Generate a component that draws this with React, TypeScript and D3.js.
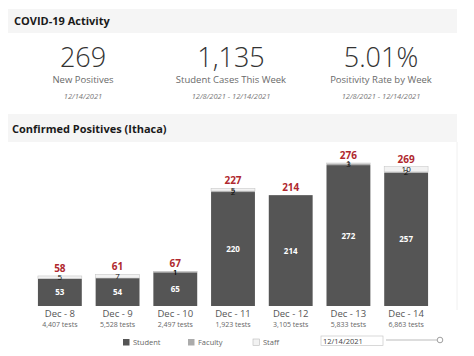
import React from "react";
import * as d3 from "d3";

const days = ["Dec - 8", "Dec - 9", "Dec - 10", "Dec - 11", "Dec - 12", "Dec - 13", "Dec - 14"];
const tests = ["4,407 tests", "5,528 tests", "2,497 tests", "1,923 tests", "3,105 tests", "5,833 tests", "6,863 tests"];
const student = [53, 54, 65, 220, 214, 272, 257];
const faculty = [0, 0, 1, 2, 0, 3, 2];
const staff = [5, 7, 1, 5, 0, 1, 10];
const seriesNames = ["Student", "Faculty", "Staff"];
const kpiValues = ["269", "1,135", "5.01%"];
const kpiLabels = ["New Positives", "Student Cases This Week", "Positivity Rate by Week"];
const kpiDates = ["12/14/2021", "12/8/2021 - 12/14/2021", "12/8/2021 - 12/14/2021"];

const W = 474, H = 356;
const colors = ["#555555", "#ababab", "#f2f2f2"];
const font = "'Open Sans', sans-serif";

export default function App() {
  const x = d3.scaleBand<string>().domain(days).range([31, 435]).paddingInner(0.24).paddingOuter(0.12);
  const y = d3.scaleLinear().domain([0, 300]).range([306, 150.6]);
  const rows = days.map((d, i) => ({ day: d, Student: student[i], Faculty: faculty[i], Staff: staff[i] }));
  const stack = d3.stack<any>().keys(seriesNames)(rows);
  const kpiX = [83, 231, 381];
  const legendX = [123, 188, 253];

  return (
    <div style={{ position: "absolute", left: 0, top: 0, width: W, height: H, background: "#fff" }}>
      <svg width={W} height={H} style={{ display: "block", fontFamily: font }}>
        <rect x={0} y={0} width={W} height={H} fill="#fff" />
        {/* header 1 */}
        <rect x={8} y={9} width={449} height={24} fill="#f5f5f5" />
        <text x={14} y={25} fontSize={11} fontWeight={700} fill="#1a1a1a">COVID-19 Activity</text>
        {kpiValues.map((v, i) => (
          <g key={v}>
            <text x={kpiX[i]} y={67} textAnchor="middle" fontSize={27} fontWeight={300} fill="#333">{v}</text>
            <text x={kpiX[i]} y={83} textAnchor="middle" fontSize={9.5} fill="#6a6a6a">{kpiLabels[i]}</text>
            <text x={kpiX[i]} y={99} textAnchor="middle" fontSize={7.5} fontStyle="italic" fill="#777">{kpiDates[i]}</text>
          </g>
        ))}
        {/* header 2 */}
        <rect x={8} y={114} width={449} height={28} fill="#f5f5f5" />
        <text x={12} y={133} fontSize={11} fontWeight={700} fill="#1a1a1a">Confirmed Positives (Ithaca)</text>
        <line x1={457} y1={142} x2={457} y2={310} stroke="#f0f0f0" />
        {/* bars */}
        {stack.map((s, si) => (
          <g key={s.key}>
            {s.map((d, i) => {
              const h = y(d[0]) - y(d[1]);
              if (h <= 0) return null;
              return (
                <rect key={i} x={x(days[i])!} y={y(d[1])} width={x.bandwidth()} height={h}
                  fill={colors[si]} stroke={si === 2 ? "#c8c8c8" : "none"} strokeWidth={0.6} />
              );
            })}
          </g>
        ))}
        {/* segment labels */}
        {stack.map((s, si) => s.map((d, i) => {
          const v = d[1] - d[0];
          if (v <= 0) return null;
          const cx = x(days[i])! + x.bandwidth() / 2;
          const cy = (y(d[0]) + y(d[1])) / 2;
          return (
            <text key={s.key + i} x={cx} y={cy + 3} textAnchor="middle" fontSize={si === 0 ? 8 : 8}
              fontWeight={si === 0 ? 700 : 400} fill={si === 0 ? "#fff" : "#111"}>{v}</text>
          );
        }))}
        {/* totals */}
        {rows.map((r, i) => {
          const t = student[i] + faculty[i] + staff[i];
          return (
            <text key={r.day} x={x(r.day)! + x.bandwidth() / 2} y={y(t) - 4} textAnchor="middle"
              fontSize={10} fontWeight={700} fill="#b0282e">{t}</text>
          );
        })}
        {/* x axis labels */}
        {days.map((d, i) => (
          <g key={d}>
            <text x={x(d)! + x.bandwidth() / 2} y={317} textAnchor="middle" fontSize={9.5} fill="#555">{d}</text>
            <text x={x(d)! + x.bandwidth() / 2} y={326.5} textAnchor="middle" fontSize={7} fill="#666">{tests[i]}</text>
          </g>
        ))}
        {/* legend */}
        {seriesNames.map((n, i) => (
          <g key={n}>
            <rect x={legendX[i]} y={339} width={6.5} height={6.5} fill={colors[i]} stroke={i === 2 ? "#bbb" : "none"} strokeWidth={0.6} />
            <text x={legendX[i] + 10} y={345} fontSize={7.5} fill="#666">{n}</text>
          </g>
        ))}
        <rect x={321} y={336} width={62} height={9.5} fill="#fff" stroke="#c8c8c8" strokeWidth={0.7} />
        <text x={323} y={343.5} fontSize={7.5} fill="#444">12/14/2021</text>
        <line x1={386} y1={340} x2={437} y2={340} stroke="#bbb" strokeWidth={1} />
        <circle cx={440} cy={340} r={2.8} fill="#fff" stroke="#888" strokeWidth={0.8} />
      </svg>
    </div>
  );
}
